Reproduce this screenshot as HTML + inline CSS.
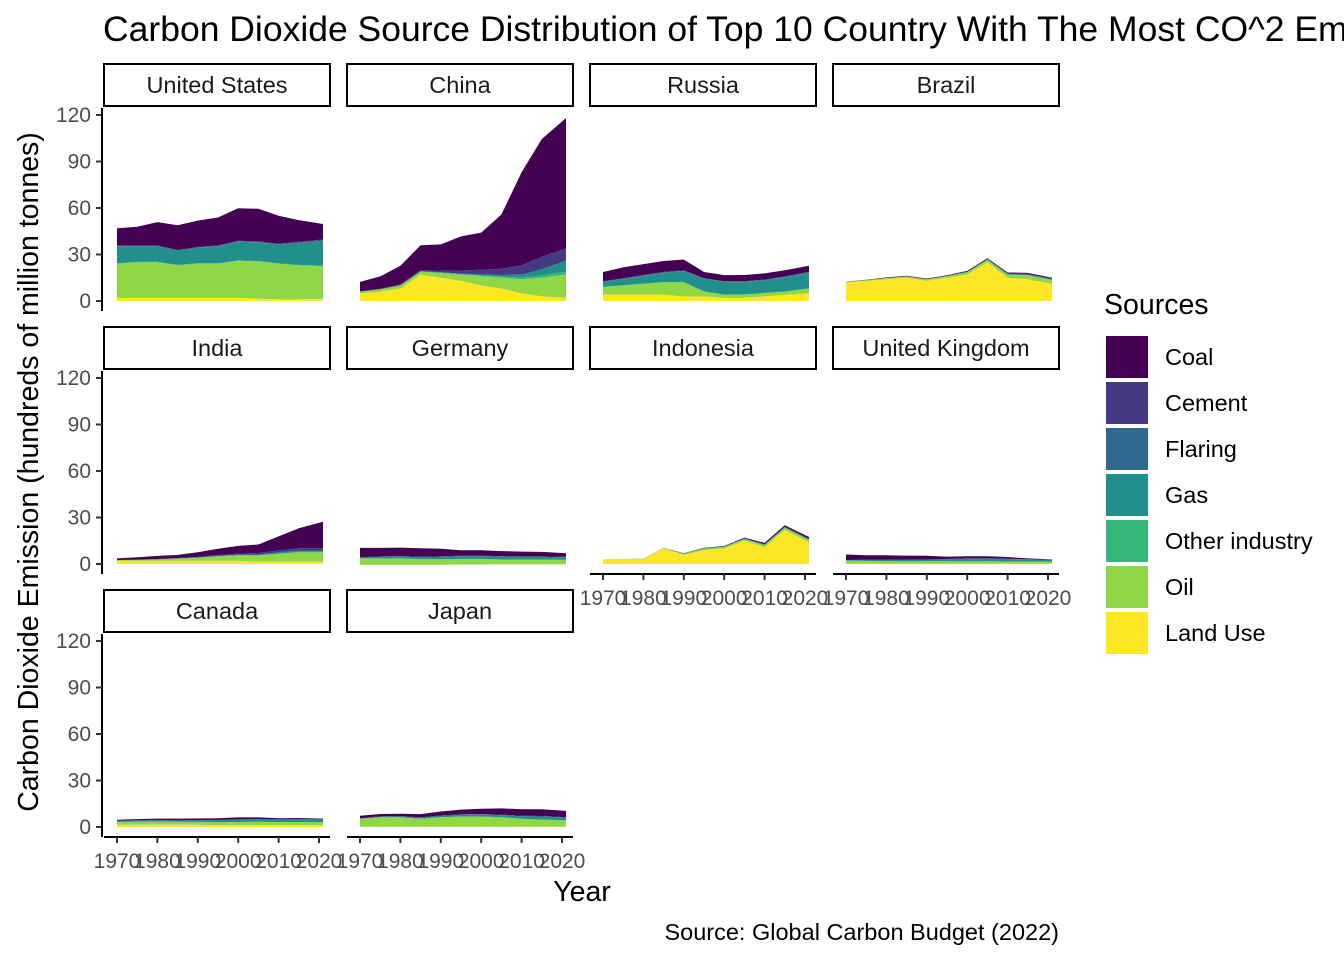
<!DOCTYPE html>
<html><head><meta charset="utf-8"><style>
body{margin:0;background:#fff;overflow:hidden;}
svg{display:block;font-family:"Liberation Sans",sans-serif;}
</style></head><body>
<svg id="chart" width="1344" height="960"></svg>
<script>
const years=[1970,1975,1980,1985,1990,1995,2000,2005,2010,2015,2021];
const sources=["Land Use","Oil","Other industry","Gas","Flaring","Cement","Coal"];
const colors=["#FDE725","#8FD744","#35B779","#21908C","#31688E","#443A83","#440154"];
const countries=["United States","China","Russia","Brazil","India","Germany","Indonesia","United Kingdom","Canada","Japan"];
const usLand=[2,2,2,2,2,2,2,1.5,1,1,1.5];
const usOil=[22,23,23,21,22,22,24,24,23,22,21];
const usOther=[0.3,0.3,0.3,0.3,0.3,0.3,0.3,0.3,0.3,0.3,0.3];
const usGas=[11,10,10,9,10,11,12,12,12,14,16];
const usFlare=[0.2,0.2,0.2,0.2,0.2,0.2,0.2,0.2,0.3,0.5,0.5];
const usCement=[0.4,0.4,0.4,0.4,0.4,0.4,0.4,0.5,0.4,0.4,0.4];
const usCoal=[11,12,15,16,17,18,21,21,18,14,10];
const cnLand=[5,6,8,17,15,13,10,8,5,3,2];
const cnOil=[1,1.5,2,2,3,4,6,7,9,12,15];
const cnOther=[0,0,0,0,0.2,0.3,0.5,0.8,1,1.5,2];
const cnGas=[0.1,0.1,0.2,0.2,0.3,0.4,0.6,1,2,4,7];
const cnFlare=[0,0,0,0,0,0,0,0,0,0,0];
const cnCement=[0.2,0.3,0.5,0.8,1,2,3,4,6,8,8];
const cnCoal=[6,8,12,16,17,22,24,35,60,76,84];
const ruLand=[4,4,4,4,3,3,2,2,3,4,5];
const ruOil=[5,6,7,8,9,3,2,2,2,2,3];
const ruOther=[0.2,0.2,0.2,0.2,0.2,0.2,0.2,0.2,0.2,0.2,0.2];
const ruGas=[3,4,5,6,7,8,8,8,8,9,10];
const ruFlare=[0.2,0.2,0.2,0.2,0.2,0.3,0.3,0.3,0.3,0.3,0.3];
const ruCement=[0.3,0.3,0.4,0.4,0.4,0.2,0.2,0.3,0.3,0.3,0.3];
const ruCoal=[6,7,7,7,7,4,4,4,4,4,4];
const brLand=[12,13,14,15,13,15,17,25,15,14,11];
const brOil=[0.3,0.5,0.8,0.8,1,1,1.5,1.5,2,2.5,2.5];
const brOther=[0,0,0,0,0,0,0,0,0.1,0.1,0.1];
const brGas=[0,0,0,0,0,0.1,0.2,0.3,0.4,0.5,0.5];
const brFlare=[0,0,0,0,0,0,0,0,0,0,0];
const brCement=[0.1,0.1,0.2,0.2,0.2,0.2,0.3,0.3,0.3,0.4,0.3];
const brCoal=[0.1,0.1,0.2,0.3,0.3,0.3,0.4,0.5,0.6,0.6,0.6];
const inLand=[2,2,2,2,2,2,2,1.5,1.5,1.5,1.5];
const inOil=[0.5,0.7,1,1.5,2,3,3.5,4,5,6,6];
const inOther=[0,0,0,0,0,0,0.1,0.1,0.2,0.3,0.3];
const inGas=[0,0,0,0.1,0.2,0.3,0.4,0.5,0.8,0.9,0.9];
const inFlare=[0,0,0,0,0,0,0,0,0,0,0];
const inCement=[0.1,0.1,0.2,0.3,0.4,0.5,0.7,1,1.3,1.4,1.5];
const inCoal=[1,1.5,2,2,3,4,5,5.5,9,13,17];
const deLand=[-0.5,-0.5,-0.5,-0.5,-0.5,-0.3,-0.3,-0.2,-0.2,-0.2,-0.2];
const deOil=[4,4,4,3.5,3.5,3.5,3.5,3,3,3,2.8];
const deOther=[0.1,0.1,0.1,0.1,0.1,0.1,0.1,0.1,0.1,0.1,0.1];
const deGas=[0.5,1,1.2,1.3,1.5,1.8,1.8,1.8,1.7,1.7,1.7];
const deFlare=[0,0,0,0,0,0,0,0,0,0,0];
const deCement=[0.3,0.3,0.3,0.3,0.3,0.3,0.3,0.3,0.3,0.3,0.3];
const deCoal=[6,5.5,5.5,5.5,5,3.5,3.5,3.3,3.1,2.9,2.2];
const idLand=[3,3,3,10,6,9,10,15,11,22,14];
const idOil=[0.1,0.2,0.3,0.4,0.6,0.8,1,1.1,1.2,1.4,1.5];
const idOther=[0,0,0,0,0,0,0,0,0,0,0];
const idGas=[0,0,0.1,0.1,0.2,0.3,0.3,0.3,0.4,0.4,0.4];
const idFlare=[0,0,0,0,0,0,0,0,0,0,0];
const idCement=[0,0,0,0,0.1,0.1,0.1,0.1,0.2,0.2,0.3];
const idCoal=[0,0,0,0,0.1,0.2,0.3,0.5,0.8,1,1.2];
const ukLand=[0.2,0.2,0.2,0.2,0.2,0.2,0.2,0.2,0.2,0.2,0.2];
const ukOil=[2,1.8,1.6,1.5,1.6,1.6,1.5,1.6,1.4,1.4,1.2];
const ukOther=[0,0,0,0,0,0,0,0,0,0,0];
const ukGas=[0.3,0.6,0.9,1,1,1.3,1.8,1.7,1.7,1.4,1.3];
const ukFlare=[0,0,0,0,0,0,0,0,0,0,0];
const ukCement=[0.1,0.1,0.1,0.1,0.1,0.1,0.1,0.1,0.1,0.1,0.1];
const ukCoal=[3.5,3,2.8,2.6,2.4,1.6,1.4,1.4,1.1,0.5,0.2];
const caLand=[1.5,1.5,1.5,1.5,1.5,1.2,1.2,1.2,1.2,1.2,1.2];
const caOil=[1.8,2,2,1.8,1.8,1.9,2,2.2,2,2,1.9];
const caOther=[0,0,0,0,0,0,0,0,0,0,0];
const caGas=[0.6,0.8,0.9,1,1.1,1.4,1.6,1.6,1.6,1.8,1.8];
const caFlare=[0,0,0,0,0,0,0,0,0,0,0];
const caCement=[0.1,0.1,0.1,0.1,0.1,0.1,0.1,0.1,0.1,0.1,0.1];
const caCoal=[0.7,0.7,0.9,1,1,1.1,1.3,1.1,0.8,0.7,0.4];
const jpLand=[0.2,0.2,0.2,0.2,0.2,0.2,0.2,0.2,0.2,0.2,0.2];
const jpOil=[5,6,6,5,6,6.5,6.5,6,5,4.5,4];
const jpOther=[0.1,0.1,0.1,0.1,0.1,0.1,0.1,0.1,0.1,0.1,0.1];
const jpGas=[0.1,0.2,0.4,0.6,0.8,1,1.2,1.4,1.6,2,1.8];
const jpFlare=[0,0,0,0,0,0,0,0,0,0,0];
const jpCement=[0.3,0.4,0.4,0.4,0.4,0.4,0.3,0.3,0.3,0.3,0.3];
const jpCoal=[1.5,1.5,1.5,2,2.5,3,3.5,4,4.3,4.3,4];
const series=[
[usLand,usOil,usOther,usGas,usFlare,usCement,usCoal],
[cnLand,cnOil,cnOther,cnGas,cnFlare,cnCement,cnCoal],
[ruLand,ruOil,ruOther,ruGas,ruFlare,ruCement,ruCoal],
[brLand,brOil,brOther,brGas,brFlare,brCement,brCoal],
[inLand,inOil,inOther,inGas,inFlare,inCement,inCoal],
[deLand,deOil,deOther,deGas,deFlare,deCement,deCoal],
[idLand,idOil,idOther,idGas,idFlare,idCement,idCoal],
[ukLand,ukOil,ukOther,ukGas,ukFlare,ukCement,ukCoal],
[caLand,caOil,caOther,caGas,caFlare,caCement,caCoal],
[jpLand,jpOil,jpOther,jpGas,jpFlare,jpCement,jpCoal]];
const yTicks=[0,30,60,90,120];
const xTicks=[1970,1980,1990,2000,2010,2020];
const legendOrder=["Coal","Cement","Flaring","Gas","Other industry","Oil","Land Use"];

const NS="http://www.w3.org/2000/svg";
const svg=document.getElementById('chart');
function mk(tag,attrs,parent){const e=document.createElementNS(NS,tag);for(const k in attrs)e.setAttribute(k,attrs[k]);(parent||svg).appendChild(e);return e;}
const colX=[104,347,590,833], rowZero=[301,564,827], stripTop=[64,327,590];
function xs(c,yr){return colX[c]+13+(yr-1970)*4.04;}
function ys(r,v){return rowZero[r]-v*1.55;}

let t=mk('text',{x:103,y:41,'font-size':35.5,fill:'#000'});

t.textContent="Carbon Dioxide Source Distribution of Top 10 Country With The Most CO^2 Emission";

countries.forEach((name,i)=>{
  const r=Math.floor(i/4), c=i%4;
  const g=mk('g',{});
  
  
  const s=mk('rect',{x:colX[c],y:stripTop[r],width:226,height:42,fill:'#fff',stroke:'#000','stroke-width':2},g);
  
  const st=mk('text',{x:colX[c]+113,y:stripTop[r]+29,'text-anchor':'middle','font-size':23.5,fill:'#1a1a1a'},g);
  
  st.textContent=name;
  let base=years.map(()=>0);
  series[i].forEach((arr,k)=>{
    const top=arr.map((v,j)=>base[j]+v);
    let d='M'+years.map((yr,j)=>xs(c,yr).toFixed(1)+','+ys(r,top[j]).toFixed(1)).join('L');
    for(let j=years.length-1;j>=0;j--)d+='L'+xs(c,years[j]).toFixed(1)+','+ys(r,base[j]).toFixed(1);
    const p=mk('path',{d:d+'Z',fill:colors[k]},g);
    
    
    base=top;
  });
  if(c===0){
    const ax=mk('line',{x1:102,y1:stripTop[r]+44,x2:102,y2:rowZero[r]+10,stroke:'#000','stroke-width':2},g);
    
    yTicks.forEach(v=>{
      mk('line',{x1:96,x2:102,y1:ys(r,v),y2:ys(r,v),stroke:'#333','stroke-width':2},g);
      const tl=mk('text',{x:91,y:ys(r,v)+7,'text-anchor':'end','font-size':21,fill:'#4d4d4d'},g);
      
      tl.textContent=v;
    });
  }
  const bottom=(r===2)||(r===1&&c>=2);
  if(bottom){
    const ay=rowZero[r]+10;
    const ax=mk('line',{x1:colX[c],y1:ay,x2:colX[c]+226,y2:ay,stroke:'#000','stroke-width':2},g);
    
    xTicks.forEach(yr=>{
      mk('line',{x1:xs(c,yr),x2:xs(c,yr),y1:ay,y2:ay+6,stroke:'#333','stroke-width':2},g);
      const tl=mk('text',{x:xs(c,yr),y:ay+31,'text-anchor':'middle','font-size':21,fill:'#4d4d4d'},g);
      
      tl.textContent=yr;
    });
  }
});

let yt=mk('text',{transform:'translate(38,472) rotate(-90)','text-anchor':'middle','font-size':28.5,fill:'#000'});

yt.textContent="Carbon Dioxide Emission (hundreds of  million tonnes)";
let xt=mk('text',{x:582,y:901,'text-anchor':'middle','font-size':28.5,fill:'#000'});

xt.textContent="Year";
let cap=mk('text',{x:1059,y:940,'text-anchor':'end','font-size':23.5,fill:'#000'});

cap.textContent="Source: Global Carbon Budget (2022)";

const lg=mk('g',{});

let lt=mk('text',{x:1104,y:314,'font-size':28.5,fill:'#000'},lg);

lt.textContent="Sources";
legendOrder.forEach((nm,j)=>{
  const k=sources.indexOf(nm);
  const y=336+j*46;
  const rct=mk('rect',{x:1106,y:y,width:42,height:42,fill:colors[k]},lg);
  
  const tx=mk('text',{x:1165,y:y+29,'font-size':23.5,fill:'#000'},lg);
  
  tx.textContent=nm;
});
</script>
</body></html>
